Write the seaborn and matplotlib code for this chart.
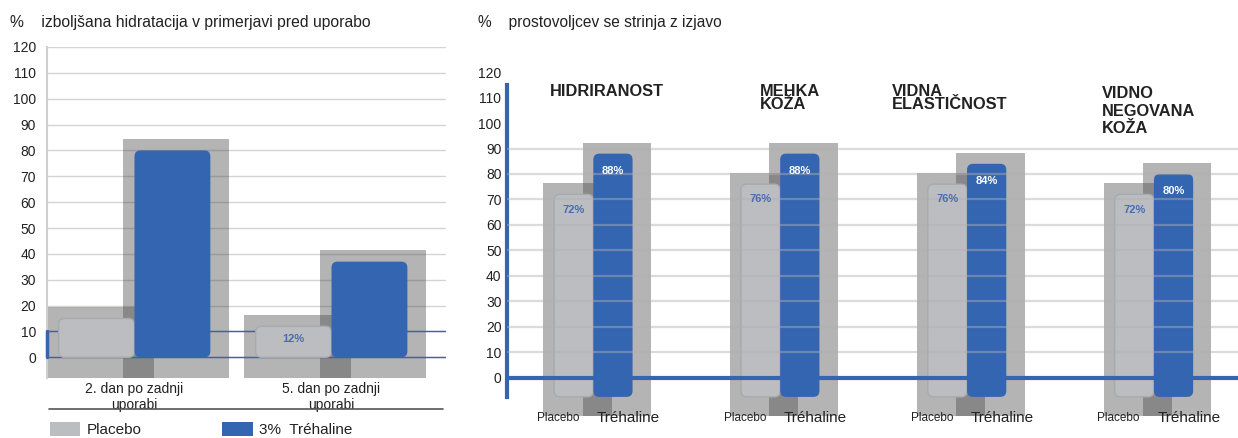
import numpy as np
import pandas as pd
import matplotlib
matplotlib.use("Agg")
import matplotlib.pyplot as plt
import seaborn as sns
from matplotlib.patches import Patch, FancyBboxPatch
from matplotlib.lines import Line2D

# ---------------- data ----------------
left_title = "%    izboljšana hidratacija v primerjavi pred uporabo"
right_title = "%    prostovoljcev se strinja z izjavo"

left_categories = ["2. dan po zadnji\nuporabi", "5. dan po zadnji\nuporabi"]
left_series = ["Placebo", "3%  Tréhaline"]
left_placebo = [15, 12]
left_trehaline = [80, 37]
left_placebo_labels = ["", "12%"]
left_yticks = [0, 10, 20, 30, 40, 50, 60, 70, 80, 90, 100, 110, 120]

right_categories = ["HIDRIRANOST", "MEHKA\nKOŽA", "VIDNA\nELASTIČNOST", "VIDNO\nNEGOVANA\nKOŽA"]
right_series = ["Placebo", "Tréhaline"]
right_placebo = [72, 76, 76, 72]
right_trehaline = [88, 88, 84, 80]
right_yticks = [0, 10, 20, 30, 40, 50, 60, 70, 80, 90, 100, 110, 120]
right_grid = [10, 20, 30, 40, 50, 60, 70, 80, 90]

# ---------------- style / layout ----------------
BLUE = "#3465b0"
PLACEBO = "#bcbdc1"
PLACEBO_EDGE = "#a9aaae"
SHADOW = "#494949"
SHADOW_ALPHA = 0.41
LABEL_BLUE = "#4a6cb3"
TXT = "#222222"

title_dx = [-0.235, -0.11, -0.40, -0.28]
title_y = [115.5, 115.5, 115.5, 114.5]
title_ls = [0.95, 0.85, 0.85, 1.2]

sns.set_theme(style="white")
plt.rcParams["font.family"] = ["Liberation Sans", "DejaVu Sans"]

W, H = 1238, 438
fig = plt.figure(figsize=(W / 100, H / 100), dpi=100)
axL = fig.add_axes([47 / W, 1 - 378 / H, (446 - 47) / W, (378 - 47) / H])
axR = fig.add_axes([507 / W, 1 - 416 / H, (W - 507) / W, (416 - 67) / H])


def add_shadows(ax, bars, ybottom, extra, ratio, dx):
    for p in bars:
        x0, w, h = p.get_x(), p.get_width(), p.get_height()
        cx = x0 + w / 2 + dx
        ax.bar(cx, h + extra - ybottom, width=w * ratio, bottom=ybottom,
               color=SHADOW, alpha=SHADOW_ALPHA, linewidth=0, zorder=1)


def round_bar(ax, p, ybot, r_px, face, edge=None, lw=0):
    """Replace a seaborn bar by a rounded box spanning the same x and value."""
    t = ax.transData
    sx = t.transform((1, 0))[0] - t.transform((0, 0))[0]
    sy = t.transform((0, 1))[1] - t.transform((0, 0))[1]
    x0, w, h = p.get_x(), p.get_width(), p.get_height()
    box = FancyBboxPatch((x0, ybot), w, h - ybot,
                         boxstyle=f"round,pad=0,rounding_size={r_px / sx}",
                         mutation_aspect=sx / sy, facecolor=face,
                         edgecolor=edge if edge else "none", linewidth=lw, zorder=3)
    ax.add_patch(box)
    p.set_visible(False)


# ================= LEFT CHART =================
df_left = pd.DataFrame({
    "cat": left_categories * 2,
    "series": [left_series[0]] * len(left_categories) + [left_series[1]] * len(left_categories),
    "value": left_placebo + left_trehaline,
})
sns.barplot(data=df_left, x="cat", y="value", hue="series", palette=[PLACEBO, BLUE],
            width=0.77, saturation=1, legend=False, ax=axL, zorder=3, linewidth=0)
Lbars = list(axL.patches)
nL = len(left_categories)
yL0 = -8
axL.set_ylim(yL0, 120)
axL.set_xlim(-0.444, 1.581)
add_shadows(axL, Lbars, yL0, 4.5, 1.4, 0.02)
for i, p in enumerate(Lbars):
    if i < nL:
        round_bar(axL, p, 0, 6, PLACEBO, PLACEBO_EDGE, 1)
    else:
        round_bar(axL, p, 0, 6, BLUE)

axL.set_yticks(left_yticks)
axL.set_yticklabels([str(t) for t in left_yticks])
axL.yaxis.grid(True, color="#d4d4d4", linewidth=1)
axL.set_axisbelow(True)
for s in ["top", "right", "bottom"]:
    axL.spines[s].set_visible(False)
axL.spines["left"].set_color("#cfcfcf")
axL.spines["left"].set_linewidth(1.5)
axL.tick_params(axis="y", length=0, pad=8, labelsize=10, labelcolor=TXT)
axL.tick_params(axis="x", length=0, pad=3, labelsize=10, labelcolor=TXT)
axL.set_xlabel("")
axL.set_ylabel("")
axL.axhline(0, color=BLUE, lw=1, zorder=2)
axL.axhline(10, color=BLUE, lw=1, zorder=2)
axL.axvline(axL.get_xlim()[0], ymin=(0 - yL0) / (120 - yL0), ymax=(10 - yL0) / (120 - yL0),
            color=BLUE, lw=2.5, zorder=4, clip_on=False)
for p, lab in zip(Lbars[:nL], left_placebo_labels):
    if lab:
        axL.text(p.get_x() + p.get_width() / 2, p.get_height() - 5, lab, ha="center", va="center",
                 color=LABEL_BLUE, fontsize=8, fontweight="bold", zorder=6)

# ================= RIGHT CHART =================
df_right = pd.DataFrame({
    "cat": right_categories * 2,
    "series": [right_series[0]] * len(right_categories) + [right_series[1]] * len(right_categories),
    "value": right_placebo + right_trehaline,
})
sns.barplot(data=df_right, x="cat", y="value", hue="series", palette=[PLACEBO, BLUE],
            width=0.42, saturation=1, legend=False, ax=axR, zorder=3, linewidth=0)
Rbars = list(axR.patches)
nR = len(right_categories)
yR0 = -15
stub = -7.5
axR.set_ylim(yR0, 122)
axR.set_xlim(-0.462, 3.45)
add_shadows(axR, Rbars, yR0, 4.3, 1.74, 0.02)
for i, p in enumerate(Rbars):
    if i < nR:
        round_bar(axR, p, stub, 6, PLACEBO, PLACEBO_EDGE, 1)
    else:
        round_bar(axR, p, stub, 6, BLUE)

axR.set_yticks(right_yticks)
axR.set_yticklabels([str(t) for t in right_yticks])
axR.set_xticks([])
axR.set_xlabel("")
axR.set_ylabel("")
for s in ["top", "right", "bottom"]:
    axR.spines[s].set_visible(False)
axR.spines["left"].set_color(BLUE)
axR.spines["left"].set_linewidth(3)
axR.spines["left"].set_bounds(stub, 115)
axR.tick_params(axis="y", length=0, pad=4, labelsize=10, labelcolor=TXT)
for g in right_grid:
    axR.axhline(g, color="#b0b0b0", alpha=0.45, lw=1.6, zorder=6)
axR.axhline(0, color=BLUE, lw=3, zorder=5)

for i in range(nR):
    pp, tp = Rbars[i], Rbars[nR + i]
    pc = pp.get_x() + pp.get_width() / 2
    tc = tp.get_x() + tp.get_width() / 2
    g = (pc + tc) / 2
    axR.text(pc, right_placebo[i] - 6, f"{right_placebo[i]}%", ha="center", va="center",
             color=LABEL_BLUE, fontsize=8, fontweight="bold", zorder=7)
    axR.text(tc, right_trehaline[i] - 6.7, f"{right_trehaline[i]}%", ha="center", va="center",
             color="white", fontsize=8, fontweight="bold", zorder=7)
    axR.text(g - 0.075, yR0 - 0.6, right_series[0], ha="right", va="center",
             fontsize=8.5, color=TXT, clip_on=False, zorder=8)
    axR.text(g + 0.02, yR0 - 0.6, right_series[1], ha="left", va="center",
             fontsize=11, color=TXT, clip_on=False, zorder=8)
    axR.text(g + title_dx[i], title_y[i], right_categories[i], ha="left", va="top",
             fontsize=11.8, fontweight="bold", color=TXT, linespacing=title_ls[i], zorder=8)

# ---------------- headers, legend ----------------
fig.text(10 / W, 1 - 22 / H, left_title, ha="left", va="center", fontsize=11.3, color=TXT)
fig.text(478 / W, 1 - 22 / H, right_title, ha="left", va="center", fontsize=11.2, color=TXT)
fig.add_artist(Line2D([49 / W, 443 / W], [1 - 409 / H] * 2, color="#555555", lw=1.2))
handles = [Patch(facecolor=PLACEBO, edgecolor="none"), Patch(facecolor=BLUE, edgecolor="none")]
fig.legend(handles=handles, labels=left_series, loc="lower left", bbox_to_anchor=(49 / W, 0.0),
           ncol=2, frameon=False, handlelength=2.0, handleheight=1.0, handletextpad=0.4,
           columnspacing=5.3, borderaxespad=0, borderpad=0.05, fontsize=11,
           labelcolor=TXT)

fig.savefig("out.png", dpi=100)
